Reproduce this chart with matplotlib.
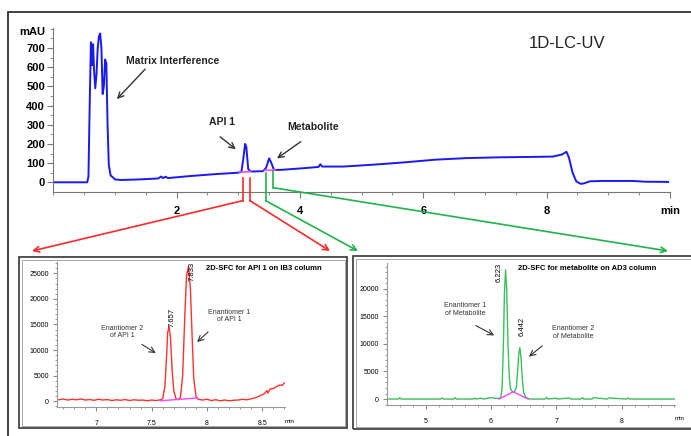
import matplotlib.pyplot as plt
from matplotlib.patches import Rectangle, FancyArrowPatch
from matplotlib.lines import Line2D
from matplotlib.ticker import MultipleLocator

plt.rcParams['font.family'] = ['Liberation Sans', 'DejaVu Sans']

# 1D-LC-UV trace (min, mAU)
lc_time = [0.0, 0.55, 0.57, 0.59, 0.61, 0.63, 0.645, 0.66, 0.68, 0.70, 0.72, 0.74,
           0.76, 0.78, 0.80, 0.82, 0.84, 0.86, 0.88, 0.90, 0.93, 0.97, 1.0, 1.1,
           1.4, 1.7, 1.75, 1.78, 1.82, 1.86, 2.2, 2.6, 3.0, 3.05, 3.08, 3.11, 3.13,
           3.16, 3.2, 3.4, 3.45, 3.5, 3.53, 3.58, 3.7, 4.0, 4.3, 4.33, 4.36, 4.7,
           5.2, 5.7, 6.2, 6.7, 7.2, 7.7, 8.1, 8.25, 8.32, 8.36, 8.42, 8.48, 8.55,
           8.6, 8.7, 8.9, 9.4, 9.6, 9.97]
lc_mau = [0, 0, 30, 400, 730, 610, 720, 590, 490, 560, 700, 760,
          775, 700, 460, 500, 640, 620, 300, 90, 35, 25, 15, 12,
          15, 20, 30, 22, 29, 22, 32, 42, 50, 55, 120, 200, 185,
          70, 56, 58, 75, 125, 105, 64, 65, 72, 80, 94, 82, 82,
          92, 104, 118, 126, 130, 132, 134, 145, 159, 130, 50, 5, -8,
          -6, 5, 7, 7, 3, 2]

# 2D-SFC API 1 trace (min, signal)
api_time = [6.66, 6.70, 6.74, 6.78, 6.82, 6.86, 6.90, 6.94, 6.98, 7.02, 7.06, 7.10,
            7.14, 7.18, 7.22, 7.26, 7.30, 7.34, 7.38, 7.42, 7.46, 7.50, 7.54, 7.58,
            7.60, 7.62, 7.635, 7.645, 7.657, 7.67, 7.685, 7.70, 7.72, 7.74, 7.76,
            7.78, 7.80, 7.815, 7.833, 7.85, 7.865, 7.88, 7.90, 7.92, 7.96, 8.0,
            8.04, 8.08, 8.12, 8.16, 8.20, 8.24, 8.28, 8.32, 8.36, 8.40, 8.44, 8.48,
            8.52, 8.54, 8.55, 8.57, 8.60, 8.63, 8.66, 8.68, 8.70]
api_sig = [300, 450, 250, 400, 300, 450, 250, 350, 200, 400, 250, 350,
           150, 300, 200, 350, 150, 300, 200, 250, 100, 250, 150, 300,
           500, 3000, 9000, 13500, 14600, 12500, 6000, 2000, 500, 300, 800,
           5000, 17000, 24500, 26300, 22000, 13000, 4500, 1000, 400, 250, 400,
           150, 300, 100, 250, 100, 200, 250, 400, 300, 500, 700, 1100,
           1500, 2100, 1600, 2400, 2500, 2900, 3200, 3100, 3600]
api_base_t = [7.58, 7.91]
api_base_v = [100, 650]

# 2D-SFC metabolite trace (min, signal)
met_time = [4.42, 4.58, 4.60, 4.62, 5.0, 5.23, 5.25, 5.27, 5.43, 5.45, 5.47, 5.73,
            5.75, 5.77, 5.85, 5.88, 6.0, 6.05, 6.12, 6.15, 6.17, 6.19, 6.205, 6.223,
            6.24, 6.26, 6.28, 6.30, 6.33, 6.36, 6.39, 6.41, 6.425, 6.442, 6.46,
            6.48, 6.50, 6.53, 6.56, 6.60, 6.83, 6.85, 6.87, 7.0, 7.02, 7.2, 7.22,
            7.38, 7.40, 7.42, 7.55, 7.57, 7.78, 7.80, 8.08, 8.10, 8.12, 8.82]
met_sig = [0, 0, 250, 0, 0, 0, 200, 0, 0, 250, 0, 0,
           200, 0, 150, 0, 250, 150, 100, 300, 2000, 10000, 19000, 23400,
           20000, 10000, 4000, 1800, 1300, 1300, 2200, 5500, 8200, 9300, 7500,
           3500, 1200, 400, 150, 0, 0, 300, 0, 150, 0, 200, 0,
           0, 250, 0, 0, 250, 0, 200, 0, 200, 0, 0]
met_base_t = [6.12, 6.34, 6.57]
met_base_v = [0, 1300, 0]

W, H = 691, 436


def px(x, y):
    return (x / W, 1 - y / H)


fig = plt.figure(figsize=(6.91, 4.36), dpi=100)

# outer frame and panel boxes
fig.add_artist(Rectangle(px(8, 445), 700 / W, 433 / H, transform=fig.transFigure,
                         fill=False, edgecolor='#333333', lw=1.3))
for x0, y0, x1, y1 in [(19, 428, 347, 257), (353, 429, 695, 256)]:
    fig.add_artist(Rectangle(px(x0, y0), (x1 - x0) / W, (y0 - y1) / H,
                             transform=fig.transFigure, fill=False,
                             edgecolor='#444444', lw=1.3))
    fig.add_artist(Rectangle(px(x0 + 2.5, y0 - 2.5), (x1 - x0 - 5) / W, (y0 - y1 - 5) / H,
                             transform=fig.transFigure, fill=False,
                             edgecolor='#999999', lw=0.6))

# ---- top: 1D-LC-UV
ax = fig.add_axes([53.3 / W, 1 - 191.7 / H, 616.7 / W, 163.7 / H])
ax.plot(lc_time, lc_mau, color='#1a1aee', lw=1.4)
ax.plot([3.02, 3.2], [52, 56], color='#ff44ff', lw=1.2)
ax.plot([3.42, 3.6], [62, 65], color='#ff44ff', lw=1.2)
ax.set_xlim(0, 10)
ax.set_ylim(-49, 804)
ax.set_yticks(range(0, 800, 100))
ax.set_xticks([2, 4, 6, 8, 10])
ax.set_xticklabels(['2', '4', '6', '8', 'min'])
ax.xaxis.set_minor_locator(MultipleLocator(0.5))
ax.yaxis.set_minor_locator(MultipleLocator(50))
ax.tick_params(labelsize=8, length=4, color='#777777')
ax.tick_params(axis='y', pad=2)
ax.tick_params(axis='x', pad=6)
ax.tick_params(which='minor', length=2, color='#777777')
for lab in ax.get_xticklabels() + ax.get_yticklabels():
    lab.set_fontweight('bold')
for s in ['top', 'right']:
    ax.spines[s].set_visible(False)
for s in ['left', 'bottom']:
    ax.spines[s].set_color('#777777')
ax.text(-0.013, 785, 'mAU', transform=ax.get_yaxis_transform(), ha='right',
        va='center', fontsize=8, fontweight='bold')
ax.text(8.33, 725, '1D-LC-UV', ha='center', va='center', fontsize=12, color='#222222')
ax.text(1.18, 632, 'Matrix Interference', ha='left', va='center', fontsize=7.5,
        fontweight='bold', color='#222222')
ax.text(2.74, 314, 'API 1', ha='center', va='center', fontsize=7.5,
        fontweight='bold', color='#222222')
ax.text(4.21, 288, 'Metabolite', ha='center', va='center', fontsize=7.5,
        fontweight='bold', color='#222222')
arrow_kw = dict(arrowstyle='->', color='#333333', lw=1.0)
ax.annotate('', xy=(1.0, 423), xytext=(1.52, 600), arrowprops=arrow_kw)
ax.annotate('', xy=(2.995, 163), xytext=(2.67, 246), arrowprops=arrow_kw)
ax.annotate('', xy=(3.59, 116), xytext=(4.05, 220), arrowprops=arrow_kw)

# ---- connector lines
red, green = '#ff2a2a', '#22b24c'
for xv, ytop, ybot, xe, ye, c in [(242.7, 178, 200.7, 32, 251, red),
                                  (250, 178, 200.7, 330, 251, red),
                                  (265.7, 173, 200.7, 358, 251, green),
                                  (273.3, 171, 187.7, 668, 251, green)]:
    fig.add_artist(Line2D([xv / W, xv / W], [1 - ytop / H, 1 - ybot / H],
                          transform=fig.transFigure, color=c, lw=1.2))
    fig.add_artist(FancyArrowPatch(px(xv, ybot), px(xe, ye), transform=fig.transFigure,
                                   arrowstyle='->', mutation_scale=10, color=c, lw=1.2,
                                   shrinkA=0, shrinkB=0))


def style_small(a):
    a.tick_params(labelsize=5, length=3, color='#888888')
    a.tick_params(axis='y', pad=3)
    a.tick_params(axis='x', pad=6)
    a.tick_params(which='minor', length=1.5, color='#888888')
    for s in ['top', 'right']:
        a.spines[s].set_visible(False)
    for s in ['left', 'bottom']:
        a.spines[s].set_color('#999999')
        a.spines[s].set_linewidth(0.8)


small_txt = dict(fontsize=5, color='#333333', ha='center', va='center', linespacing=1.1)
small_arrow = dict(arrowstyle='->', color='#333333', lw=0.8)

# ---- bottom-left: API 1
ax1 = fig.add_axes([57.3 / W, 1 - 407.3 / H, 227.7 / W, 145.3 / H])
ax1.plot(api_time, api_sig, color='#ff3030', lw=1.0)
ax1.plot(api_base_t, api_base_v, color='#ff44ff', lw=1.0)
ax1.set_xlim(6.647, 8.705)
ax1.set_ylim(-1170, 27200)
ax1.set_xticks([7, 7.5, 8, 8.5])
ax1.set_xticklabels(['7', '7.5', '8', '8.5'])
ax1.set_yticks([0, 5000, 10000, 15000, 20000, 25000])
ax1.xaxis.set_minor_locator(MultipleLocator(0.1))
ax1.yaxis.set_minor_locator(MultipleLocator(1000))
style_small(ax1)
ax1.text(1.0, -0.08, 'min', transform=ax1.transAxes, fontsize=4.5, ha='left', va='top')
ax1.text(7.685, 14500, '7.657', rotation=90, ha='center', va='bottom', fontsize=5.5)
ax1.text(7.862, 23400, '7.833', rotation=90, ha='center', va='bottom', fontsize=5.5)
ax1.text(0.654, 0.952, '2D-SFC for API 1 on IB3 column', transform=ax1.transAxes,
         ha='left', va='center', fontsize=5.5, fontweight='bold')
ax1.text(0.284, 0.518, 'Enantiomer 2\nof API 1', transform=ax1.transAxes, **small_txt)
ax1.text(0.756, 0.628, 'Enantiomer 1\nof API 1', transform=ax1.transAxes, **small_txt)
ax1.annotate('', xy=(0.443, 0.363), xytext=(0.361, 0.443), xycoords='axes fraction',
             arrowprops=small_arrow)
ax1.annotate('', xy=(0.605, 0.436), xytext=(0.671, 0.532), xycoords='axes fraction',
             arrowprops=small_arrow)

# ---- bottom-right: metabolite
ax2 = fig.add_axes([387.3 / W, 1 - 405 / H, 287.7 / W, 141.7 / H])
ax2.plot(met_time, met_sig, color='#3cbf5a', lw=1.0)
ax2.plot(met_base_t, met_base_v, color='#ff44ff', lw=1.0)
ax2.set_xlim(4.41, 8.82)
ax2.set_ylim(-1080, 24600)
ax2.set_xticks([5, 6, 7, 8])
ax2.set_yticks([0, 5000, 10000, 15000, 20000])
ax2.xaxis.set_minor_locator(MultipleLocator(0.2))
ax2.yaxis.set_minor_locator(MultipleLocator(1000))
style_small(ax2)
ax2.text(1.0, -0.08, 'min', transform=ax2.transAxes, fontsize=4.5, ha='left', va='top')
ax2.text(6.12, 21300, '6.223', rotation=90, ha='center', va='bottom', fontsize=5.5)
ax2.text(6.47, 11400, '6.442', rotation=90, ha='center', va='bottom', fontsize=5.5)
ax2.text(0.453, 0.965, '2D-SFC for metabolite on AD3 column', transform=ax2.transAxes,
         ha='left', va='center', fontsize=5.5, fontweight='bold')
ax2.text(0.27, 0.674, 'Enantiomer 1\nof Metabolite', transform=ax2.transAxes, **small_txt)
ax2.text(0.647, 0.512, 'Enantiomer 2\nof Metabolite', transform=ax2.transAxes, **small_txt)
ax2.annotate('', xy=(0.380, 0.482), xytext=(0.299, 0.57), xycoords='axes fraction',
             arrowprops=small_arrow)
ax2.annotate('', xy=(0.485, 0.329), xytext=(0.546, 0.43), xycoords='axes fraction',
             arrowprops=small_arrow)

fig.savefig('out.png', dpi=100)
